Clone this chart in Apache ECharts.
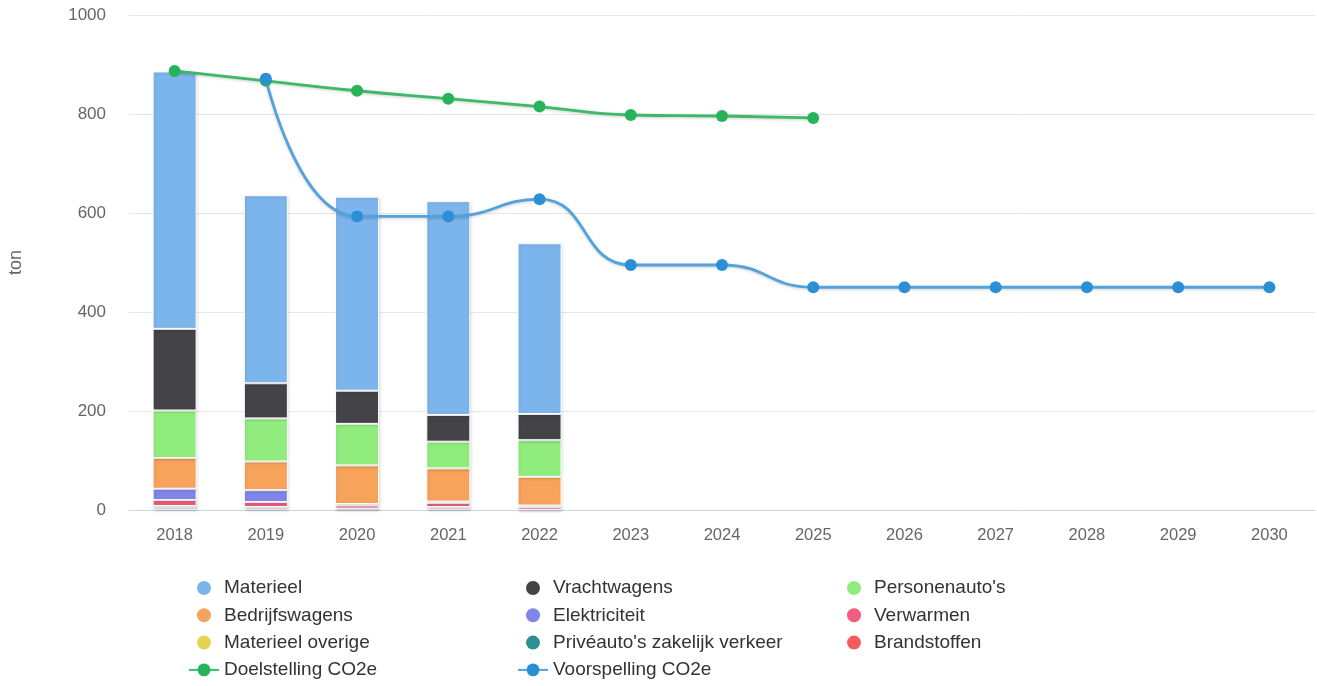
<!DOCTYPE html>
<html>
<head>
<meta charset="utf-8">
<script src="https://cdn.jsdelivr.net/npm/echarts@6/dist/echarts.min.js"></script>
<style>html,body{margin:0;padding:0;background:#fff}#c{width:1317px;height:686px}</style>
</head>
<body>
<div id="c"></div>
<script>
const years = ['2018','2019','2020','2021','2022','2023','2024','2025','2026','2027','2028','2029','2030'];
const yTicks = [0, 200, 400, 600, 800, 1000];

// stacked bar values (2018-2022)
const materieel        = [520, 380, 392, 432, 345];
const vrachtwagens     = [165, 71, 67, 54, 53];
const personenautos    = [96, 87, 84, 54, 74];
const bedrijfswagens   = [62, 58, 78, 67, 58];
const elektriciteit    = [23, 24, 3, 3, 3];
const verwarmen        = [12, 10, 6, 8, 5];
const materieelOverige = [0, 0, 0, 0, 0];
const priveautos       = [4, 3, 0, 3, 0];
const brandstoffen     = [4, 3, 3, 3, 1];

// lines
const doelstelling = [887, 867, 847, 831, 815, 798, 796, 792];
const voorspelling = [null, 871, 593, 593, 628, 495, 495, 450, 450, 450, 450, 450, 450];

const barDefs = [
  ['Brandstoffen', brandstoffen, '#f45b5b'],
  ["Privéauto's zakelijk verkeer", priveautos, '#2b908f'],
  ['Materieel overige', materieelOverige, '#e4d354'],
  ['Verwarmen', verwarmen, '#f15c80'],
  ['Elektriciteit', elektriciteit, '#8085e9'],
  ['Bedrijfswagens', bedrijfswagens, '#f7a35c'],
  ["Personenauto's", personenautos, '#90ed7d'],
  ['Vrachtwagens', vrachtwagens, '#434348'],
  ['Materieel', materieel, '#7cb5ec']
];

const series = barDefs.map(([name, data, color]) => ({
  name, type: 'bar', stack: 'total', data, barWidth: 44,
  itemStyle: {color, borderColor: '#fff', borderWidth: 1,
    shadowColor: 'rgba(0,0,0,0.15)', shadowBlur: 3, shadowOffsetX: 1, shadowOffsetY: 1}
}));

series.push({
  name: 'Doelstelling CO2e', type: 'line', data: doelstelling, smooth: true,
  symbol: 'circle', symbolSize: 12,
  itemStyle: {color: '#27b35a'},
  lineStyle: {color: '#3cba68', width: 2.8, shadowColor: 'rgba(0,0,0,0.2)', shadowBlur: 3, shadowOffsetY: 1}
});
series.push({
  name: 'Voorspelling CO2e', type: 'line', data: voorspelling, smooth: true,
  symbol: 'circle', symbolSize: 12,
  itemStyle: {color: '#2b8fd6'},
  lineStyle: {color: '#52a2dc', width: 2.8, shadowColor: 'rgba(0,0,0,0.2)', shadowBlur: 3, shadowOffsetY: 1}
});

const fontFam = '"Liberation Sans", Arial, sans-serif';
const legendBase = {
  orient: 'vertical', top: 578, padding: 0, itemWidth: 30, itemHeight: 16, itemGap: 7.3,
  textStyle: {color: '#333', fontSize: 19, fontFamily: fontFam, lineHeight: 20},
  selectedMode: false
};
const ci = n => ({name: n, icon: 'circle'});

const chart = echarts.init(document.getElementById('c'), null, {renderer: 'canvas'});
chart.setOption({
  animation: false,
  textStyle: {fontFamily: fontFam},
  grid: {left: 129, right: 2, top: 15, bottom: 176, containLabel: false, outerBoundsMode: 'none'},
  xAxis: {
    type: 'category', data: years, boundaryGap: true,
    axisLine: {lineStyle: {color: '#ccd6eb'}},
    axisTick: {show: false},
    axisLabel: {color: '#666', fontSize: 16.5, margin: 17, fontFamily: fontFam}
  },
  yAxis: {
    type: 'value', min: yTicks[0], max: yTicks[yTicks.length - 1], interval: 200,
    name: 'ton', nameLocation: 'middle', nameGap: 104, nameRotate: 90,
    nameTextStyle: {color: '#666', fontSize: 18, fontFamily: fontFam},
    axisLabel: {color: '#666', fontSize: 17, margin: 23, fontFamily: fontFam, formatter: v => String(v)},
    splitLine: {lineStyle: {color: '#e6e6e6'}},
    axisLine: {show: false}, axisTick: {show: false}
  },
  legend: [
    Object.assign({}, legendBase, {left: 188, data: [ci('Materieel'), ci('Bedrijfswagens'), ci('Materieel overige'), {name: 'Doelstelling CO2e'}]}),
    Object.assign({}, legendBase, {left: 517, data: [ci('Vrachtwagens'), ci('Elektriciteit'), ci("Privéauto's zakelijk verkeer"), {name: 'Voorspelling CO2e'}]}),
    Object.assign({}, legendBase, {left: 845, data: [ci("Personenauto's"), ci('Verwarmen'), ci('Brandstoffen')]})
  ],
  series
});
</script>
</body>
</html>
